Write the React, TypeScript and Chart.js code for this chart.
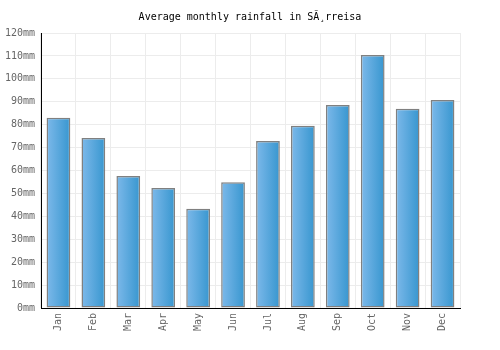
import React, { useEffect, useRef } from "react";
import { Chart, registerables } from "chart.js";

Chart.register(...registerables);

const months = ["Jan", "Feb", "Mar", "Apr", "May", "Jun", "Jul", "Aug", "Sep", "Oct", "Nov", "Dec"];
const rainfall = [83.0, 74.2, 57.6, 52.4, 43.3, 54.9, 72.9, 79.5, 88.6, 110.4, 86.9, 90.8];
const chartTitle = "Average monthly rainfall in SÃ¸rreisa";

const FONT = "'DejaVu Sans Mono', monospace";
const BAR_PCT = 0.68;

export default function App() {
  const ref = useRef<HTMLCanvasElement | null>(null);

  useEffect(() => {
    if (!ref.current) return;
    const chart = new Chart(ref.current, {
      type: "bar",
      data: {
        labels: months,
        datasets: [
          {
            data: rainfall,
            backgroundColor: (ctx: any) => {
              const c = ctx.chart;
              const xs = c.scales && c.scales.x;
              if (!xs || ctx.dataIndex == null || !xs.width) return "#5aa8e0";
              const cx = xs.getPixelForValue(ctx.dataIndex);
              const w = (xs.width / months.length) * BAR_PCT;
              const g = c.ctx.createLinearGradient(cx - w / 2, 0, cx + w / 2, 0);
              g.addColorStop(0, "#7db9ea");
              g.addColorStop(1, "#3796cf");
              return g;
            },
            borderColor: "#808080",
            borderWidth: 1.5,
            borderSkipped: false,
            barPercentage: BAR_PCT,
            categoryPercentage: 1,
          },
        ],
      },
      options: {
        animation: false,
        responsive: false,
        maintainAspectRatio: false,
        layout: { padding: 0 },
        plugins: {
          legend: { display: false },
          tooltip: { enabled: false },
          title: {
            display: true,
            text: chartTitle,
            color: "#000",
            font: { family: FONT, size: 10, weight: "normal", lineHeight: 1.2 },
            padding: { top: 11, bottom: 10 },
          },
        },
        scales: {
          x: {
            grid: { color: "#ececec", drawTicks: false, offset: true },
            border: { color: "#000", width: 1 },
            ticks: {
              color: "#666",
              font: { family: FONT, size: 10 },
              minRotation: 90,
              maxRotation: 90,
              padding: 5,
            },
            afterFit: (s: any) => {
              s.height = 42;
            },
          },
          y: {
            min: 0,
            max: 120,
            grid: { color: "#ececec", drawTicks: false },
            border: { color: "#000", width: 1 },
            ticks: {
              stepSize: 10,
              color: "#666",
              font: { family: FONT, size: 10 },
              padding: 6,
              callback: (v: any) => v + "mm",
            },
            afterFit: (s: any) => {
              s.width = 41;
            },
          },
          spacer: {
            type: "linear",
            position: "right",
            display: true,
            grid: { display: false, drawTicks: false },
            border: { display: false },
            ticks: { display: false },
            afterFit: (s: any) => {
              s.width = 40;
            },
          },
        },
      },
    });
    return () => chart.destroy();
  }, []);

  return (
    <div style={{ position: "absolute", left: 0, top: 0, width: 500, height: 350, background: "#fff" }}>
      <canvas ref={ref} width={500} height={350} style={{ width: 500, height: 350 }} />
    </div>
  );
}
